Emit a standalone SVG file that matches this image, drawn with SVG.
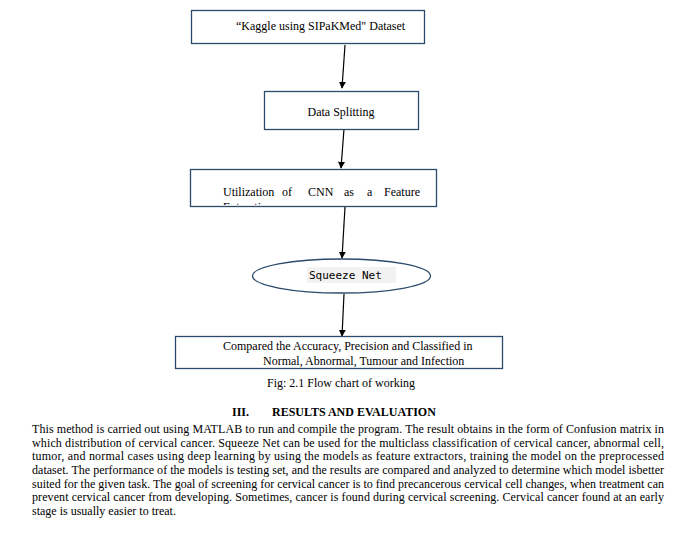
<svg xmlns="http://www.w3.org/2000/svg" width="681" height="534" viewBox="0 0 681 534">
<style>
.box{fill:#fff;stroke:#2c4a6b;stroke-width:1.3}
.t{font-family:"Liberation Serif","Times New Roman",serif;font-size:12px;fill:#000}
.b{font-weight:bold}
.mono{font-family:"DejaVu Sans Mono","Liberation Mono",monospace;font-size:11px;fill:#000}
.con{stroke:#000;stroke-width:1.2;fill:none;marker-end:url(#ah)}
</style>
<defs>
<marker id="ah" viewBox="0 0 10 10" refX="9" refY="5" markerWidth="7" markerHeight="7" orient="auto" markerUnits="userSpaceOnUse">
<path d="M0,0 L10,5 L0,10 z" fill="#000"/>
</marker>
<clipPath id="c3"><rect x="190" y="169" width="247" height="36"/></clipPath>
</defs>
<rect width="681" height="534" fill="#fff"/>
<g id="connectors">
<line class="con" x1="345" y1="45" x2="342" y2="88"/>
<line class="con" x1="344" y1="129" x2="341" y2="168"/>
<line class="con" x1="345" y1="207" x2="342" y2="258"/>
<line class="con" x1="344" y1="294" x2="342" y2="336"/>
</g>
<g id="n1">
<rect class="box" x="191.5" y="10.5" width="233" height="33"/>
<text class="t" x="236" y="30">“Kaggle using SIPaKMed" Dataset</text>
</g>
<g id="n2">
<rect class="box" x="264.5" y="91.5" width="154" height="38"/>
<text class="t" x="341" y="116" text-anchor="middle">Data Splitting</text>
</g>
<g id="n3">
<rect class="box" x="190.5" y="169.5" width="246" height="37"/>
<g clip-path="url(#c3)">
<text class="t" y="196"><tspan x="223">Utilization</tspan><tspan x="282">of</tspan><tspan x="308">CNN</tspan><tspan x="344">as</tspan><tspan x="367">a</tspan><tspan x="384">Feature</tspan></text>
<text class="t" x="223" y="211">Extraction</text>
</g>
</g>
<g id="n4">
<ellipse cx="341.5" cy="276" rx="89" ry="17" fill="#fff" stroke="#2c4a6b" stroke-width="1.3"/>
<rect x="307" y="267" width="89" height="16" fill="#f2f2f2"/>
<text class="mono" x="309" y="279">Squeeze Net</text>
</g>
<g id="n5">
<rect class="box" x="175.5" y="336.5" width="327" height="32"/>
<text class="t" x="223" y="350">Compared the Accuracy, Precision and Classified in</text>
<text class="t" x="263" y="365">Normal, Abnormal, Tumour and Infection</text>
</g>
<text class="t" x="267" y="387">Fig: 2.1 Flow chart of working</text>
<text class="t b" x="232" y="416">III.</text>
<text class="t b" x="272" y="416">RESULTS AND EVALUATION</text>
<g class="t">
<text x="32" y="433" textLength="632" lengthAdjust="spacing">This method is carried out using MATLAB to run and compile the program. The result obtains in the form of Confusion matrix in</text>
<text x="32" y="447" textLength="632" lengthAdjust="spacing">which distribution of cervical cancer. Squeeze Net can be used for the multiclass classification of cervical cancer, abnormal cell,</text>
<text x="32" y="460" textLength="632" lengthAdjust="spacing">tumor, and normal cases using deep learning by using the models as feature extractors, training the model on the preprocessed</text>
<text x="32" y="474" textLength="632" lengthAdjust="spacing">dataset. The performance of the models is testing set, and the results are compared and  analyzed to determine which model isbetter</text>
<text x="32" y="488" textLength="632" lengthAdjust="spacing">suited for the given task. The goal of screening for cervical cancer is to find precancerous cervical cell changes, when treatment can</text>
<text x="32" y="501" textLength="632" lengthAdjust="spacing">prevent cervical cancer from developing. Sometimes, cancer is found during cervical screening. Cervical cancer found at an early</text>
<text x="32" y="515">stage is usually easier to treat.</text>
</g>
</svg>
